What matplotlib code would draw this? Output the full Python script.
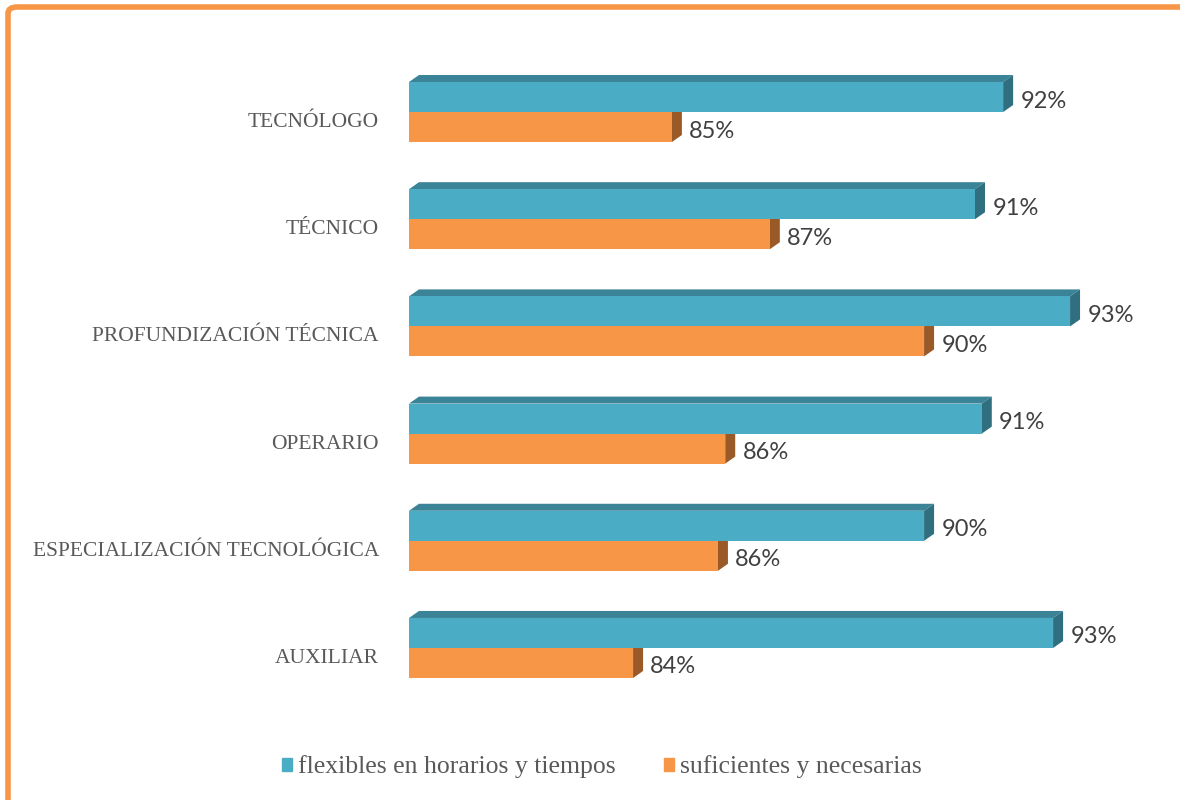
import matplotlib.pyplot as plt
import numpy as np
from matplotlib.patches import Polygon, Patch, FancyBboxPatch

# categories from top to bottom
categories = ["TECNÓLOGO", "TÉCNICO", "PROFUNDIZACIÓN TÉCNICA", "OPERARIO",
              "ESPECIALIZACIÓN TECNOLÓGICA", "AUXILIAR"]
flexibles = [91.65, 91.07, 93.03, 91.21, 90.02, 92.68]
suficientes = [84.82, 86.84, 90.02, 85.92, 85.77, 84.02]
series_names = ["flexibles en horarios y tiempos", "suficientes y necesarias"]

teal = "#4BACC6"
teal_top = "#3B8497"
teal_side = "#306F80"
orange = "#F79646"
orange_side = "#9A5A28"

W, H = 1180, 800
fig = plt.figure(figsize=(W / 100, H / 100), dpi=100)

ax_left, ax_right = 409, 1140
ax_top, ax_bot = 47.7, 712.3
ax = fig.add_axes([ax_left / W, 1 - ax_bot / H, (ax_right - ax_left) / W, (ax_bot - ax_top) / H])

xmin, xmax = 79.4, 79.4 + (ax_right - ax_left) / 48.5
ymin, ymax = -0.6, 5.6
ax.set_xlim(xmin, xmax)
ax.set_ylim(ymin, ymax)

# depth of the fake 3d faces, in data units
px_x = (xmax - xmin) / (ax_right - ax_left)
px_y = (ymax - ymin) / (ax_bot - ax_top)
dx = 10 * px_x
dy = 7 * px_y

n = len(categories)
ypos = np.arange(n)[::-1]
h = 0.28
lab_shift = 4 * px_y

for y, vf, vs in zip(ypos, flexibles, suficientes):
    # orange bar (below the group line)
    ax.barh(y - h / 2, vs - xmin, left=xmin, height=h, color=orange, zorder=2)
    ax.add_patch(Polygon([(vs, y - h), (vs, y), (vs + dx, y + dy), (vs + dx, y - h + dy)],
                         closed=True, color=orange_side, zorder=1, lw=0))
    # teal bar (above the group line)
    ax.barh(y + h / 2, vf - xmin, left=xmin, height=h, color=teal, zorder=4)
    ax.add_patch(Polygon([(xmin, y + h), (vf, y + h), (vf + dx, y + h + dy), (xmin + dx, y + h + dy)],
                         closed=True, color=teal_top, zorder=3, lw=0))
    ax.add_patch(Polygon([(vf, y), (vf, y + h), (vf + dx, y + h + dy), (vf + dx, y + dy)],
                         closed=True, color=teal_side, zorder=3, lw=0))
    ax.text(vf + dx + 0.15, y + h / 2 - lab_shift, f"{vf:.0f}%", va="center", ha="left",
            fontsize=17, color="#404040", family="Lato")
    ax.text(vs + dx + 0.15, y - h / 2 - lab_shift, f"{vs:.0f}%", va="center", ha="left",
            fontsize=17, color="#404040", family="Lato")

ax.set_yticks(ypos - 8 * px_y)
ax.set_yticklabels(categories, fontsize=15.5, color="#595959", family="Liberation Serif")
ax.tick_params(axis="y", length=0, pad=21.6)
ax.set_xticks([])
for s in ax.spines.values():
    s.set_visible(False)

handles = [Patch(color=teal), Patch(color=orange)]
fig.legend(handles, series_names, loc="center", bbox_to_anchor=(0.51, 1 - 767 / H),
           ncol=2, frameon=False, handlelength=0.4, handleheight=0.4, handletextpad=0.25,
           columnspacing=1.85, prop={"family": "Liberation Serif", "size": 18.5},
           labelcolor="#595959")

# orange frame (only top and left visible)
frame = FancyBboxPatch((8 / W, -0.2), 1.2, 1 - 7 / H + 0.2,
                       boxstyle="round,pad=0,rounding_size=0.008",
                       transform=fig.transFigure, fill=False, ec=orange, lw=4, clip_on=False)
fig.patches.append(frame)

fig.savefig("out.png", dpi=100)
